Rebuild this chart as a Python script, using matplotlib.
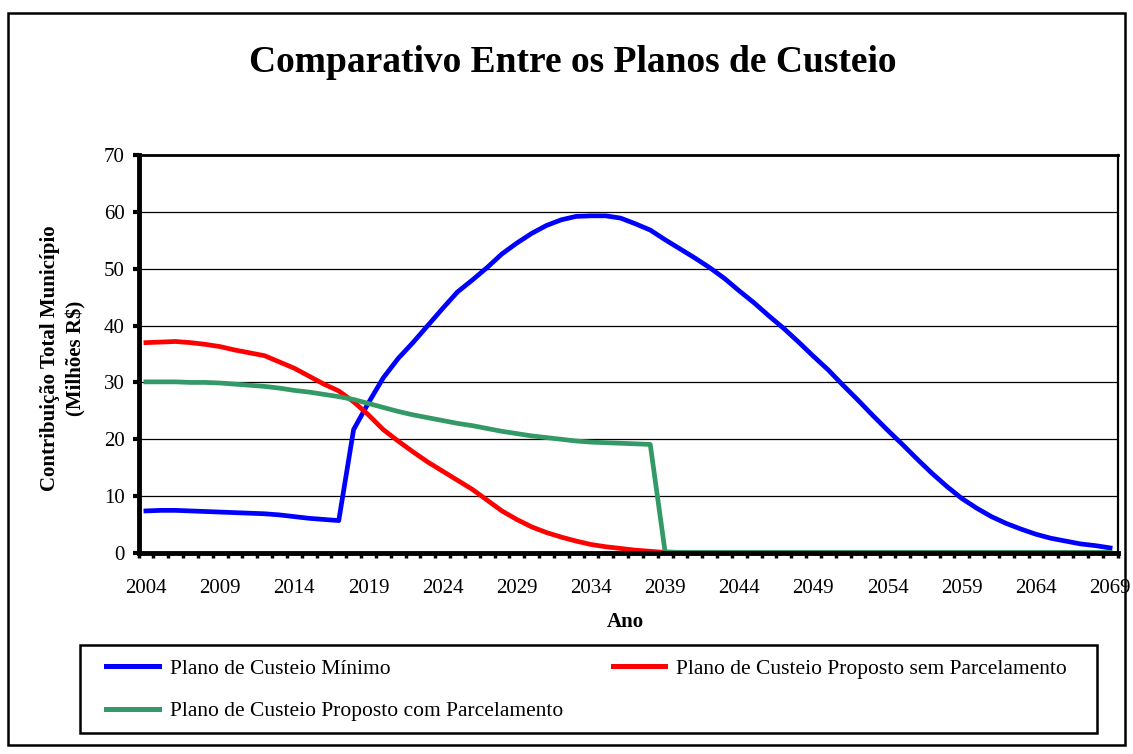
import matplotlib
matplotlib.use('Agg')
import matplotlib.pyplot as plt
from matplotlib.patches import Rectangle
import numpy as np

plt.rcParams['font.family'] = ['Liberation Serif', 'DejaVu Serif']

# Ano (categorias do eixo x)
anos = list(range(2004, 2070))

# Contribuicao total do municipio (milhoes R$)
custeio_minimo = [7.4, 7.5, 7.5, 7.4, 7.3, 7.2, 7.1, 7.0, 6.9, 6.7,
                  6.4, 6.1, 5.9, 5.7, 21.7, 26.4, 30.8, 34.2, 37.0, 40.0,
                  43.0, 45.9, 48.0, 50.2, 52.6, 54.5, 56.2, 57.6, 58.6, 59.2,
                  59.3, 59.3, 58.9, 57.9, 56.8, 55.1, 53.5, 51.9, 50.2, 48.3,
                  46.1, 44.0, 41.7, 39.5, 37.1, 34.6, 32.2, 29.5, 26.9, 24.2,
                  21.6, 19.1, 16.5, 14.0, 11.7, 9.6, 7.9, 6.4, 5.2, 4.2,
                  3.3, 2.6, 2.1, 1.6, 1.3, 0.9]

sem_parcelamento = [37.0, 37.1, 37.2, 37.0, 36.7, 36.3, 35.7, 35.2, 34.7, 33.6,
                    32.5, 31.1, 29.7, 28.5, 26.6, 24.3, 21.7, 19.7, 17.8, 16.0,
                    14.4, 12.8, 11.2, 9.3, 7.4, 5.9, 4.6, 3.6, 2.8, 2.1,
                    1.5, 1.1, 0.8, 0.5, 0.3, 0.1, 0.0, 0.0, 0.0, 0.0,
                    0.0, 0.0, 0.0, 0.0, 0.0, 0.0, 0.0, 0.0, 0.0, 0.0,
                    0.0, 0.0, 0.0, 0.0, 0.0, 0.0, 0.0, 0.0, 0.0, 0.0,
                    0.0, 0.0, 0.0, 0.0, 0.0, 0.0]

com_parcelamento = [30.1, 30.1, 30.1, 30.0, 30.0, 29.9, 29.7, 29.5, 29.3, 29.0,
                    28.6, 28.3, 27.9, 27.5, 27.0, 26.3, 25.6, 24.9, 24.3, 23.8,
                    23.3, 22.8, 22.4, 21.9, 21.4, 21.0, 20.6, 20.3, 20.0, 19.7,
                    19.5, 19.4, 19.3, 19.2, 19.1, 0.2, 0.1, 0.1, 0.1, 0.1,
                    0.1, 0.1, 0.1, 0.1, 0.1, 0.1, 0.1, 0.1, 0.1, 0.1,
                    0.1, 0.1, 0.1, 0.1, 0.1, 0.1, 0.1, 0.1, 0.1, 0.1,
                    0.1, 0.1, 0.1, 0.1, 0.1, 0.1]

series = [('Plano de Custeio Mínimo', custeio_minimo, '#0000FF'),
          ('Plano de Custeio Proposto sem Parcelamento', sem_parcelamento, '#FF0000'),
          ('Plano de Custeio Proposto com Parcelamento', com_parcelamento, '#339966')]

W, H = 1133, 754
fig = plt.figure(figsize=(W/100, H/100), dpi=100)
ax = fig.add_axes([138.5/W, 1-553/H, (1117.5-138.5)/W, (553-155)/H])

x = np.arange(len(anos))
linhas = {}
for nome, vals, cor in series:
    l, = ax.plot(x, vals, color=cor, lw=3.4, solid_joinstyle='round', label=nome)
    linhas[nome] = l

ax.set_xlim(-0.5, len(anos) - 0.5)
ax.set_ylim(0, 70)
ax.set_yticks(range(0, 80, 10))
ax.set_yticklabels([str(v) for v in range(0, 80, 10)], fontsize=15)
ax.set_xticks(x[::5])
ax.set_xticklabels([str(a) for a in anos[::5]], fontsize=15)
ax.set_xticks(np.arange(-0.5, len(anos)), minor=True)
ax.tick_params(axis='x', which='major', length=0, pad=18.5)
ax.tick_params(axis='x', which='minor', length=3.5, width=2.5, direction='out')
ax.tick_params(axis='y', length=4, width=3, direction='out', pad=6)

for v in range(10, 70, 10):
    ax.axhline(v, color='black', lw=0.9, zorder=0)

ax.spines['left'].set_linewidth(3.5)
ax.spines['bottom'].set_linewidth(3.5)
ax.spines['top'].set_linewidth(2)
ax.spines['right'].set_linewidth(1.6)

ax.set_xlabel('Ano', fontsize=15, fontweight='bold')
ax.xaxis.set_label_coords((625 - 138.5)/979, -(612 - 553)/398)

fig.text(63/W, 1-358/H, 'Contribuição Total Município\n(Milhões R$)',
         rotation=90, ha='center', va='center', multialignment='center',
         fontsize=15, fontweight='bold', linespacing=1.4)

fig.text(572.5/W, 1-62/H, 'Comparativo Entre os Planos de Custeio',
         ha='center', va='center', fontsize=27, fontweight='bold')

# caixa da legenda
fig.patches.append(Rectangle((80/W, 1-733/H), (1097-80)/W, (733-645)/H,
                             transform=fig.transFigure, fill=False,
                             edgecolor='black', lw=1.8))

ordem = ['Plano de Custeio Mínimo', 'Plano de Custeio Proposto com Parcelamento',
         'Plano de Custeio Proposto sem Parcelamento']
leg = fig.legend([linhas[n] for n in ordem], ordem, ncol=2, mode='expand',
                 bbox_to_anchor=(106/W, 1-710/H, (1067-106)/W, 40/H),
                 loc='center', fontsize=15.5, frameon=False,
                 handlelength=2.45, handletextpad=0.5,
                 labelspacing=1.03, borderaxespad=0, borderpad=0)
for h in leg.legend_handles:
    h.set_linewidth(3.6)

# moldura externa
fig.patches.append(Rectangle((8/W, 1-745/H), (1125-8)/W, (745-13)/H,
                             transform=fig.transFigure, fill=False,
                             edgecolor='black', lw=1.8))

fig.savefig('out.png', dpi=100)
